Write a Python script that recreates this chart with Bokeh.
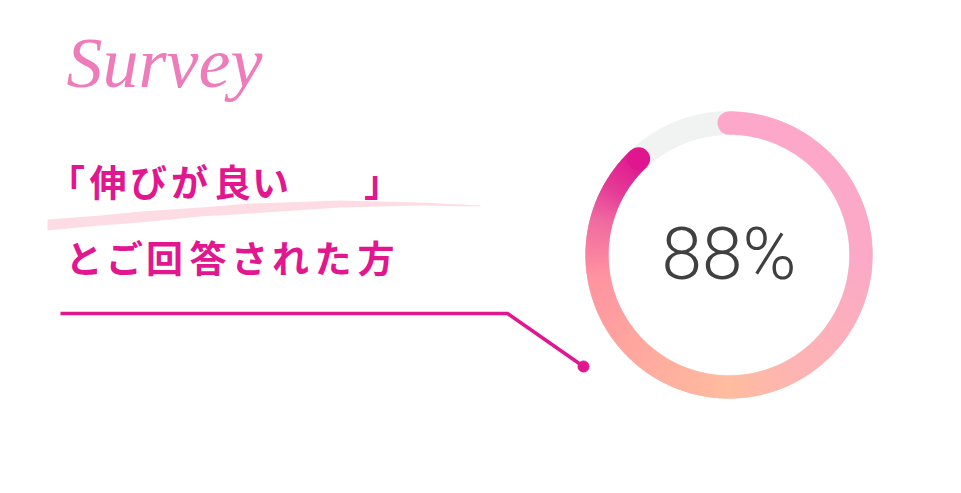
import numpy as np
from bokeh.plotting import figure
from bokeh.models import Range1d
from bokeh.core.properties import value
from bokeh.embed import file_html
from bokeh.resources import INLINE

# ---- data ----
percent_value = 88
percent_label = "88%"
title_line1 = ["「", "伸", "び", "が", "良", "い", "」"]
title_line2 = ["と", "ご", "回", "答", "さ", "れ", "た", "方"]
script_label = "Survey"

# ---- layout helpers (page pixels -> data units, 1:1) ----
W, H = 945, 477
def X(px):
    return px
def Y(py):
    return H - py

MAGENTA = "#E2168E"
TRACK = "#F1F2F2"

p = figure(width=W, height=H, output_backend="svg", toolbar_location=None,
           x_range=Range1d(0, W), y_range=Range1d(0, H), min_border=0)
p.axis.visible = False
p.grid.visible = False
p.outline_line_color = None
p.background_fill_color = "white"
p.border_fill_color = "white"

# ---- "Survey" handwritten label ----
p.text(x=[X(66)], y=[Y(62)], text=[script_label], text_font=value("Liberation Serif"),
       text_font_style="italic", text_font_size="72px", text_color="#EA5AA9",
       text_alpha=0.8, text_baseline="middle")

# ---- brush underline ----
top = [(47, 219), (100, 215), (140, 211), (200, 207), (250, 203), (340, 200), (420, 202), (480, 205)]
bot = [(480, 206), (420, 205), (340, 207), (250, 213), (200, 216), (140, 222), (100, 225), (47, 230)]
poly = top + bot
p.patch([X(a) for a, b in poly], [Y(b) for a, b in poly], fill_color="#FDDBE2",
        line_color=None, fill_alpha=0.95)

# ---- title characters ----
x1 = [66, 107.5, 148, 189, 232, 270, 382]
x2 = [83.5, 124, 164, 207.5, 249, 290, 332.5, 375.5]
p.text(x=[X(v) for v in x1], y=[Y(180)] * len(x1), text=title_line1,
       text_font=value("Noto Sans CJK JP"), text_font_style="bold", text_font_size="37px",
       text_color=MAGENTA, text_align="center", text_baseline="middle")
p.text(x=[X(v) for v in x2], y=[Y(256)] * len(x2), text=title_line2,
       text_font=value("Noto Sans CJK JP"), text_font_style="bold", text_font_size="37px",
       text_color=MAGENTA, text_align="center", text_baseline="middle")

# ---- connector ----
p.line([X(60), X(507), X(583)], [Y(313), Y(313), Y(366)], line_color=MAGENTA, line_width=3.5)
p.scatter([X(583)], [Y(366)], size=11, color=MAGENTA)

# ---- donut gauge ----
cx, cy = X(728.5), Y(254.5)
r_out, r_in = 143.5, 120.5
r_mid = (r_out + r_in) / 2
half = (r_out - r_in) / 2

p.annular_wedge(x=[cx], y=[cy], inner_radius=r_in, outer_radius=r_out,
                start_angle=0, end_angle=2 * np.pi, color=TRACK)

sweep = percent_value / 100 * 360.0
stops_t = [0, 90, 150, 180, 220, 260, 285, 300, sweep]
stops_c = ["#FDA8CA", "#FCA9C8", "#FDB4B3", "#FFBC9F", "#FFAA9F", "#FF94A0",
           "#F06AA0", "#E43A96", "#E0168F"]
def hex2rgb(h):
    return np.array([int(h[i:i + 2], 16) for i in (1, 3, 5)], float)
rgb = np.array([hex2rgb(c) for c in stops_c])
def color_at(t):
    r = np.interp(t, stops_t, rgb[:, 0])
    g = np.interp(t, stops_t, rgb[:, 1])
    b = np.interp(t, stops_t, rgb[:, 2])
    return "#%02x%02x%02x" % (int(round(r)), int(round(g)), int(round(b)))

n = int(sweep * 2)
edges = np.linspace(0, sweep, n + 1)
t0, t1 = edges[:-1], edges[1:]
mids = (t0 + t1) / 2
cols = [color_at(t) for t in mids]
start = np.deg2rad(90 - np.minimum(t1 + 0.4, sweep))
end = np.deg2rad(90 - t0)
p.annular_wedge(x=[cx] * n, y=[cy] * n, inner_radius=r_in, outer_radius=r_out,
                start_angle=start, end_angle=end, fill_color=cols, line_color=None)

# round caps
for t in (0.0, sweep):
    a = np.deg2rad(90 - t)
    p.circle(x=[cx + r_mid * np.cos(a)], y=[cy + r_mid * np.sin(a)], radius=half,
             fill_color=color_at(t), line_color=None)

# ---- percentage label ----
p.text(x=[cx], y=[cy + 1], text=[percent_label], text_font=value("Roboto Light, Roboto"),
       text_font_size="73px", text_color="#404040", text_align="center",
       text_baseline="middle")

open("out.html", "w").write(file_html(p, INLINE))
